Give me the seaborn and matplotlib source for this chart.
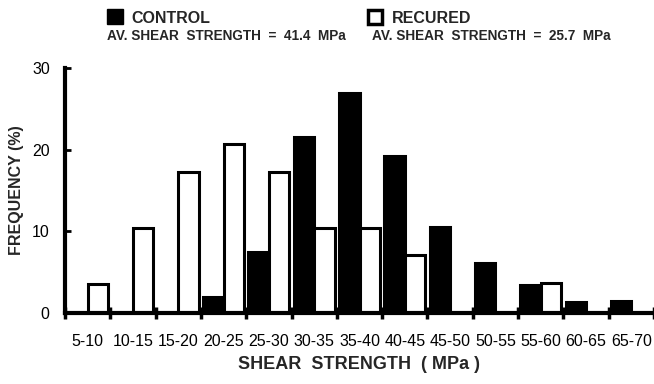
import matplotlib
matplotlib.use("Agg")
import matplotlib.pyplot as plt
from matplotlib.patches import Rectangle
import seaborn as sns
import pandas as pd
import numpy as np

categories = ["5-10", "10-15", "15-20", "20-25", "25-30", "30-35", "35-40",
              "40-45", "45-50", "50-55", "55-60", "60-65", "65-70"]
control = [0, 0, 0, 2.0, 7.5, 21.5, 27.0, 19.2, 10.5, 6.1, 3.4, 1.3, 1.5]
recured = [3.5, 10.4, 17.3, 20.7, 17.3, 10.4, 10.4, 7.1, 0, 0, 3.7, 0, 0]
series = ["CONTROL", "RECURED"]
avg_text = ["AV. SHEAR  STRENGTH  =  41.4  MPa", "AV. SHEAR  STRENGTH  =  25.7  MPa"]
yticks = [0, 10, 20, 30]

df = pd.DataFrame({
    "range": categories * 2,
    "freq": control + recured,
    "group": [series[0]] * len(categories) + [series[1]] * len(categories),
})

sns.set_theme(style="white")
plt.rcParams["font.family"] = ["Liberation Sans", "DejaVu Sans"]

fig = plt.figure(figsize=(6.54, 3.84), dpi=100)
ax = fig.add_axes([65 / 654, 71 / 384, 1 - 65 / 654, 245 / 384])

sns.barplot(data=df, x="range", y="freq", hue="group", order=categories,
            hue_order=series, palette={"CONTROL": "black", "RECURED": "white"},
            edgecolor="black", linewidth=2.2, width=0.9, ax=ax, legend=False)

ax.set_xlim(-0.5, 12.42)
ax.set_ylim(0, 30)
ax.set_yticks(yticks)
ax.set_yticklabels([str(v) for v in yticks])
sns.despine(ax=ax)
for s in ["left", "bottom"]:
    ax.spines[s].set_linewidth(3)
    ax.spines[s].set_color("black")

ax.set_xticks(range(len(categories)))
ax.set_xticklabels(categories)
ax.set_xticks(np.arange(-0.5, len(categories), 1.0), minor=True)
ax.tick_params(axis="x", which="major", length=0, pad=15, labelsize=11.5, colors="black")
ax.tick_params(axis="x", which="minor", length=8, width=2.5, direction="inout",
               bottom=True, color="black")
ax.tick_params(axis="y", which="major", length=4, width=2, direction="in", left=True,
               pad=11, labelsize=11.5, colors="black")

ax.set_xlabel("SHEAR  STRENGTH  ( MPa )", fontsize=13, fontweight="bold", labelpad=5)
ax.set_ylabel("FREQUENCY (%)", fontsize=11.5, fontweight="bold", labelpad=6)

# legend-like header
fig.patches.append(Rectangle((107 / 654, 1 - 24 / 384), 16 / 654, 15 / 384,
                             transform=fig.transFigure, facecolor="black",
                             edgecolor="black", linewidth=1))
fig.patches.append(Rectangle((368 / 654, 1 - 23.5 / 384), 14 / 654, 13.5 / 384,
                             transform=fig.transFigure, facecolor="white",
                             edgecolor="black", linewidth=2.5))
fig.text(131 / 654, 1 - 23 / 384, series[0], fontsize=11.5, fontweight="bold",
         va="baseline", ha="left")
fig.text(392 / 654, 1 - 23 / 384, series[1], fontsize=11.5, fontweight="bold",
         va="baseline", ha="left")
fig.text(107 / 654, 1 - 40 / 384, avg_text[0], fontsize=9.8, fontweight="bold",
         va="baseline", ha="left")
fig.text(372 / 654, 1 - 40 / 384, avg_text[1], fontsize=9.8, fontweight="bold",
         va="baseline", ha="left")

fig.savefig("out.png", dpi=100)
